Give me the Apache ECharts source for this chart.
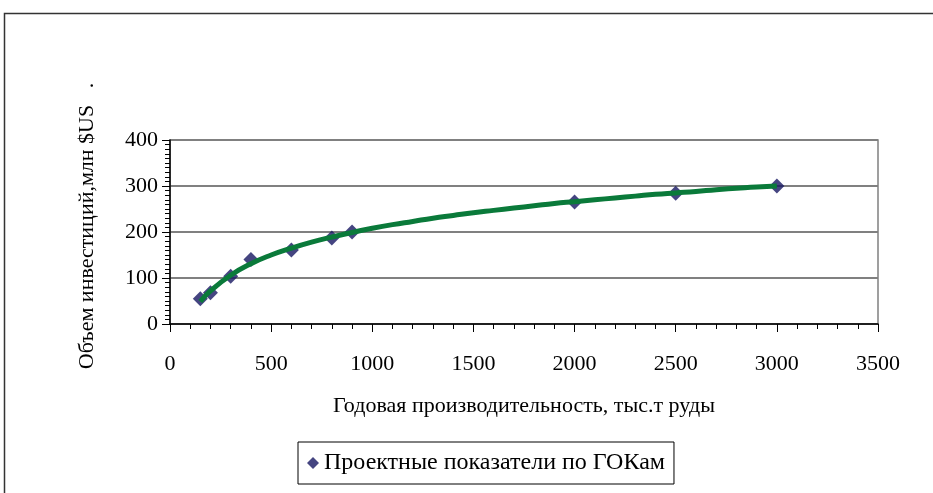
<!DOCTYPE html>
<html>
<head>
<meta charset="utf-8">
<script src="https://cdn.jsdelivr.net/npm/echarts@6/dist/echarts.min.js"></script>
<style>
  html, body { margin: 0; padding: 0; background: #fff; }
  #chart { width: 933px; height: 493px; }
</style>
</head>
<body>
<div id="chart"></div>
<script>
// Project capacity (thousand t of ore per year) vs. investment (million $US)
const capacity = [150, 200, 300, 400, 600, 800, 900, 2000, 2500, 3000];
const investment = [55, 68, 104, 140, 161, 187, 200, 265, 284, 300];

// Fitted trend curve, sampled along the capacity range
const trendX = [150, 200, 300, 400, 500, 600, 700, 800, 900, 1000, 1100, 1200, 1300, 1400, 1500,
  1600, 1700, 1800, 1900, 2000, 2100, 2200, 2300, 2400, 2500, 2600, 2700, 2800, 2900, 3000];
const trendY = [49, 72, 106, 131, 150, 165, 178, 189, 199, 208, 216, 223, 230, 236, 242,
  247, 252, 257, 262, 266, 270, 274, 278, 282, 285, 288, 292, 295, 298, 300];

const xTicks = [0, 500, 1000, 1500, 2000, 2500, 3000, 3500];
const yTicks = [0, 100, 200, 300, 400];

const seriesName = 'Проектные показатели по ГОКам';
const xTitle = 'Годовая производительность, тыс.т руды';
const yTitle = 'Объем инвестиций,млн $US   .';

const FONT = '"Liberation Serif", "Times New Roman", serif';

const chart = echarts.init(document.getElementById('chart'), null, { renderer: 'canvas' });

chart.setOption({
  backgroundColor: '#ffffff',
  animation: false,
  textStyle: { fontFamily: FONT, color: '#000' },
  graphic: [{
    type: 'rect',
    shape: { x: 4.5, y: 13.5, width: 940, height: 500 },
    style: { fill: 'none', stroke: '#333', lineWidth: 1.5 },
    silent: true
  }],
  grid: {
    left: 170, right: 55, top: 140, bottom: 169,
    show: true, borderColor: '#808080', borderWidth: 1.5, backgroundColor: 'transparent'
  },
  legend: {
    data: [{ name: seriesName, icon: 'diamond' }],
    left: 298, top: 442,
    padding: [9, 9, 9, 9],
    itemWidth: 12, itemHeight: 12, itemGap: 4,
    borderColor: '#000', borderWidth: 1,
    textStyle: { fontFamily: FONT, fontSize: 24, color: '#000' }
  },
  xAxis: {
    type: 'value',
    min: xTicks[0], max: xTicks[xTicks.length - 1], interval: 500,
    name: xTitle, nameLocation: 'middle', nameGap: 71,
    nameTextStyle: { fontFamily: FONT, fontSize: 22, color: '#000' },
    axisLine: { show: true, lineStyle: { color: '#000', width: 1.5 } },
    axisTick: { show: true, inside: false, length: 8, lineStyle: { color: '#000' } },
    minorTick: { show: true, splitNumber: 5, length: 5, lineStyle: { color: '#000' } },
    axisLabel: { margin: 29, fontFamily: FONT, fontSize: 22, color: '#000', formatter: v => String(v) },
    splitLine: { show: false }
  },
  yAxis: {
    type: 'value',
    min: yTicks[0], max: yTicks[yTicks.length - 1], interval: 100,
    name: yTitle, nameLocation: 'middle', nameGap: 72, nameRotate: 90,
    nameTextStyle: { fontFamily: FONT, fontSize: 22, color: '#000', padding: [0, 0, 0, 12] },
    axisLine: { show: true, lineStyle: { color: '#000', width: 1.5 } },
    axisTick: { show: true, inside: false, length: 8, lineStyle: { color: '#000' } },
    minorTick: { show: true, splitNumber: 10, length: 5, lineStyle: { color: '#000' } },
    axisLabel: { margin: 12, fontFamily: FONT, fontSize: 22, color: '#000', formatter: v => String(v) },
    splitLine: { show: true, lineStyle: { color: '#808080', width: 2 } }
  },
  series: [
    {
      name: seriesName,
      type: 'scatter',
      symbol: 'diamond',
      symbolSize: 15,
      itemStyle: { color: '#161662' },
      data: capacity.map((c, i) => [c, investment[i]]),
      z: 2
    },
    {
      name: 'trend',
      type: 'line',
      smooth: true,
      showSymbol: false,
      lineStyle: { color: '#0a7a3a', width: 5 },
      data: trendX.map((c, i) => [c, trendY[i]]),
      z: 3
    }
  ]
});
</script>
</body>
</html>
